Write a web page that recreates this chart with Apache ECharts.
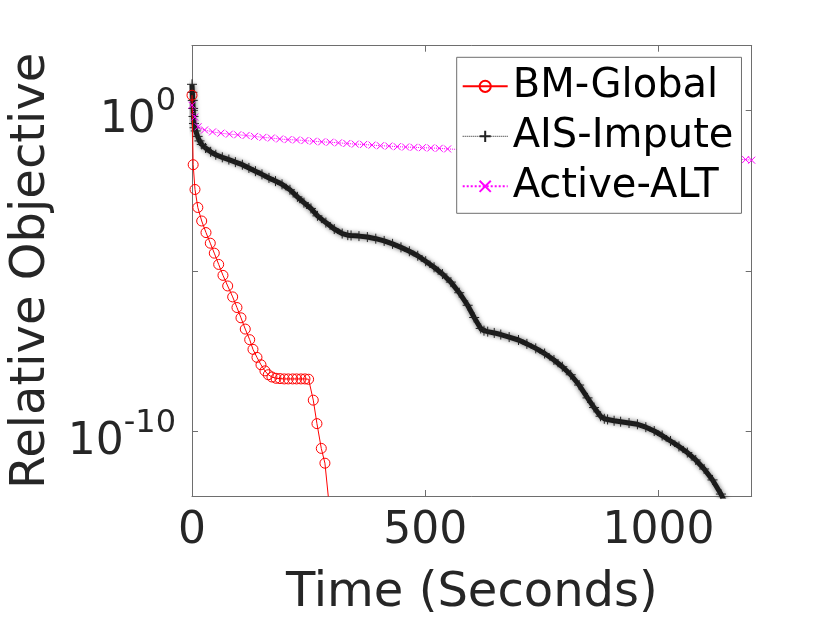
<!DOCTYPE html>
<html>
<head>
<meta charset="utf-8">
<script src="https://cdn.jsdelivr.net/npm/echarts@6/dist/echarts.min.js"></script>
<style>
html,body{margin:0;padding:0;background:#fff;}
#chart{width:830px;height:623px;}
</style>
</head>
<body>
<div id="chart"></div>
<script>
// ---- data (time in seconds, objective as log10 exponent) ----
const bmTime = [0, 2.5, 6.4, 12.5, 20.8, 30, 39.2, 47.8, 57.2, 66.4, 76.5, 87.2, 96.4, 105, 114.2, 123.7, 130.7, 139.3, 147.9, 156.4, 163.5, 171.4, 180, 188.6, 197.8, 206.4, 215.8, 224.3, 233.6, 242.2, 250, 260, 267.9, 277.2, 285, 297];
const bmLog = [0.46, -1.70, -2.47, -3.03, -3.45, -3.81, -4.14, -4.45, -4.80, -5.14, -5.47, -5.81, -6.14, -6.46, -6.81, -7.14, -7.44, -7.69, -7.92, -8.11, -8.23, -8.30, -8.34, -8.35, -8.36, -8.36, -8.36, -8.36, -8.36, -8.36, -8.37, -9.02, -9.75, -10.52, -10.98, -12.7];

const aisTime = [0, 0.8, 1.6, 2.4, 3.2, 4.2, 5.5, 8, 12, 16, 21, 29, 40, 51, 65, 79, 93, 108, 122, 136, 150, 165, 179, 193, 210, 226, 240, 255, 269, 287, 305, 322, 334, 341, 358, 376, 394, 412, 430, 448, 466, 484, 501, 519, 537, 555, 573, 591, 605, 619, 626, 634, 648, 662, 680, 700, 718, 737, 756, 776, 794, 812, 830, 848, 862, 876, 884, 891, 905, 919, 937, 955, 973, 991, 1008, 1026, 1044, 1062, 1080, 1098, 1116, 1134, 1150];
const aisLog = [0.8, 0.55, 0.3, 0.05, -0.2, -0.42, -0.55, -0.65, -0.82, -0.96, -1.07, -1.18, -1.3, -1.39, -1.47, -1.54, -1.62, -1.70, -1.80, -1.90, -2.0, -2.11, -2.21, -2.31, -2.48, -2.7, -2.88, -3.06, -3.29, -3.5, -3.70, -3.84, -3.89, -3.90, -3.92, -3.95, -4.0, -4.07, -4.16, -4.27, -4.39, -4.53, -4.70, -4.89, -5.1, -5.35, -5.68, -6.07, -6.45, -6.79, -6.86, -6.89, -6.93, -6.98, -7.06, -7.15, -7.27, -7.41, -7.57, -7.77, -7.98, -8.23, -8.55, -8.95, -9.25, -9.52, -9.6, -9.62, -9.66, -9.69, -9.73, -9.77, -9.86, -9.98, -10.12, -10.29, -10.46, -10.65, -10.88, -11.16, -11.5, -11.94, -12.4];

const altTime = [0, 6, 13, 27, 44, 62, 80, 98, 116, 134, 152, 170, 188, 206, 224, 242, 260, 278, 296, 314, 332, 350, 368, 386, 404, 422, 440, 458, 476, 494, 512, 530, 548, 580, 640, 700, 760, 820, 880, 940, 1000, 1060, 1120, 1160, 1187, 1200];
const altLog = [0.15, -0.22, -0.52, -0.62, -0.68, -0.72, -0.75, -0.77, -0.79, -0.82, -0.85, -0.87, -0.9, -0.92, -0.93, -0.95, -0.97, -0.99, -1.0, -1.02, -1.04, -1.06, -1.07, -1.09, -1.11, -1.12, -1.14, -1.15, -1.16, -1.17, -1.18, -1.19, -1.21, -1.23, -1.26, -1.29, -1.32, -1.35, -1.38, -1.42, -1.45, -1.48, -1.51, -1.53, -1.54, -1.56];

const seriesNames = ['BM-Global', 'AIS-Impute', 'Active-ALT'];
const xTicks = [0, 500, 1000];
const yTickExp = [-10, -5, 0];
const yLabelExp = [-10, 0];

function pairs(ts, ls) { return ts.map((t, i) => [t, Math.pow(10, ls[i])]); }

const FONT = 'DejaVu Sans';
const AX = '#262626';
const BOX = '#6e6e6e';
const PLUS = 'path://M5,0L5,10M0,5L10,5';
const CROSS = 'path://M0,0L10,10M10,0L0,10';

const yRich = {
  b: {fontSize: 44, fontFamily: FONT, color: AX, lineHeight: 66, verticalAlign: 'bottom'},
  s: {fontSize: 32, fontFamily: FONT, color: AX, lineHeight: 36, verticalAlign: 'top', padding: [9, 0, 0, 0]}
};

const chart = echarts.init(document.getElementById('chart'), null, {renderer: 'canvas'});
chart.setOption({
  animation: false,
  backgroundColor: '#fff',
  grid: {left: 191, right: 78.3, top: 45.7, bottom: 125.3, containLabel: false},
  legend: {
    orient: 'vertical',
    left: 456.7, top: 57.3,
    padding: [9, 8, 7, 5],
    itemWidth: 45, itemHeight: 14, itemGap: 10,
    backgroundColor: '#fff',
    borderColor: BOX, borderWidth: 1, borderRadius: 0,
    textStyle: {fontSize: 40, fontFamily: FONT, color: '#000', lineHeight: 40},
    data: [
      {name: seriesNames[0]},
      {name: seriesNames[1], lineStyle: {width: 1, type: 'dotted', shadowBlur: 0}},
      {name: seriesNames[2]}
    ],
    z: 10
  },
  xAxis: [{
    type: 'value', min: 0, max: 1200, interval: 500, position: 'bottom',
    name: 'Time (Seconds)', nameLocation: 'middle', nameGap: 74,
    nameTextStyle: {fontSize: 48, fontFamily: FONT, color: AX},
    axisLine: {show: true, onZero: false, lineStyle: {color: BOX, width: 1}},
    axisTick: {show: true, inside: true, length: 6, lineStyle: {color: BOX}, customValues: xTicks},
    axisLabel: {fontSize: 44, fontFamily: FONT, color: AX, margin: 14, customValues: xTicks,
      formatter: function (v) { return String(v); }},
    splitLine: {show: false}
  }, {
    type: 'value', min: 0, max: 1200, interval: 500, position: 'top',
    axisLine: {show: true, onZero: false, lineStyle: {color: BOX, width: 1}},
    axisTick: {show: true, inside: true, length: 6, lineStyle: {color: BOX}, customValues: xTicks},
    axisLabel: {show: false},
    splitLine: {show: false}
  }],
  yAxis: [{
    type: 'log', logBase: 10, min: 1e-12, max: 100, position: 'left',
    name: 'Relative Objective', nameLocation: 'middle', nameGap: 136,
    nameTextStyle: {fontSize: 48, fontFamily: FONT, color: AX},
    axisLine: {show: true, onZero: false, lineStyle: {color: BOX, width: 1}},
    axisTick: {show: true, inside: true, length: 6, lineStyle: {color: BOX}, customValues: yTickExp.map(e => Math.pow(10, e))},
    axisLabel: {
      margin: 16, customValues: yLabelExp.map(e => Math.pow(10, e)),
      formatter: function (v) { return '{b|10}{s|' + Math.round(Math.log10(v)) + '}'; },
      rich: yRich
    },
    splitLine: {show: false}, minorTick: {show: false}
  }, {
    type: 'log', logBase: 10, min: 1e-12, max: 100, position: 'right',
    axisLine: {show: true, onZero: false, lineStyle: {color: BOX, width: 1}},
    axisTick: {show: true, inside: true, length: 6, lineStyle: {color: BOX}, customValues: yTickExp.map(e => Math.pow(10, e))},
    axisLabel: {show: false},
    splitLine: {show: false}
  }],
  series: [
    {
      name: seriesNames[0], type: 'line', xAxisIndex: 0, yAxisIndex: 0,
      data: pairs(bmTime, bmLog), clip: true,
      symbol: 'circle', symbolSize: 10, showAllSymbol: true,
      lineStyle: {color: '#ff0000', width: 1},
      itemStyle: {color: 'rgba(255,0,0,0)', borderColor: '#ff0000', borderWidth: 1},
      z: 3
    },
    {
      name: seriesNames[1], type: 'line', xAxisIndex: 0, yAxisIndex: 0,
      data: pairs(aisTime, aisLog), clip: true,
      symbol: PLUS, symbolSize: 10, showAllSymbol: true,
      lineStyle: {color: '#1a1a1a', width: 5, shadowColor: 'rgba(0,0,0,0.6)', shadowBlur: 5},
      itemStyle: {color: 'rgba(0,0,0,0)', borderColor: '#222', borderWidth: 1},
      z: 2
    },
    {
      name: seriesNames[2], type: 'line', xAxisIndex: 0, yAxisIndex: 0,
      data: pairs(altTime, altLog), clip: true,
      symbol: CROSS, symbolSize: 7, showAllSymbol: true,
      lineStyle: {color: '#ff00ff', width: 1, type: 'dotted'},
      itemStyle: {color: 'rgba(255,0,255,0)', borderColor: '#ff00ff', borderWidth: 1},
      z: 4
    }
  ]
});
</script>
</body>
</html>
